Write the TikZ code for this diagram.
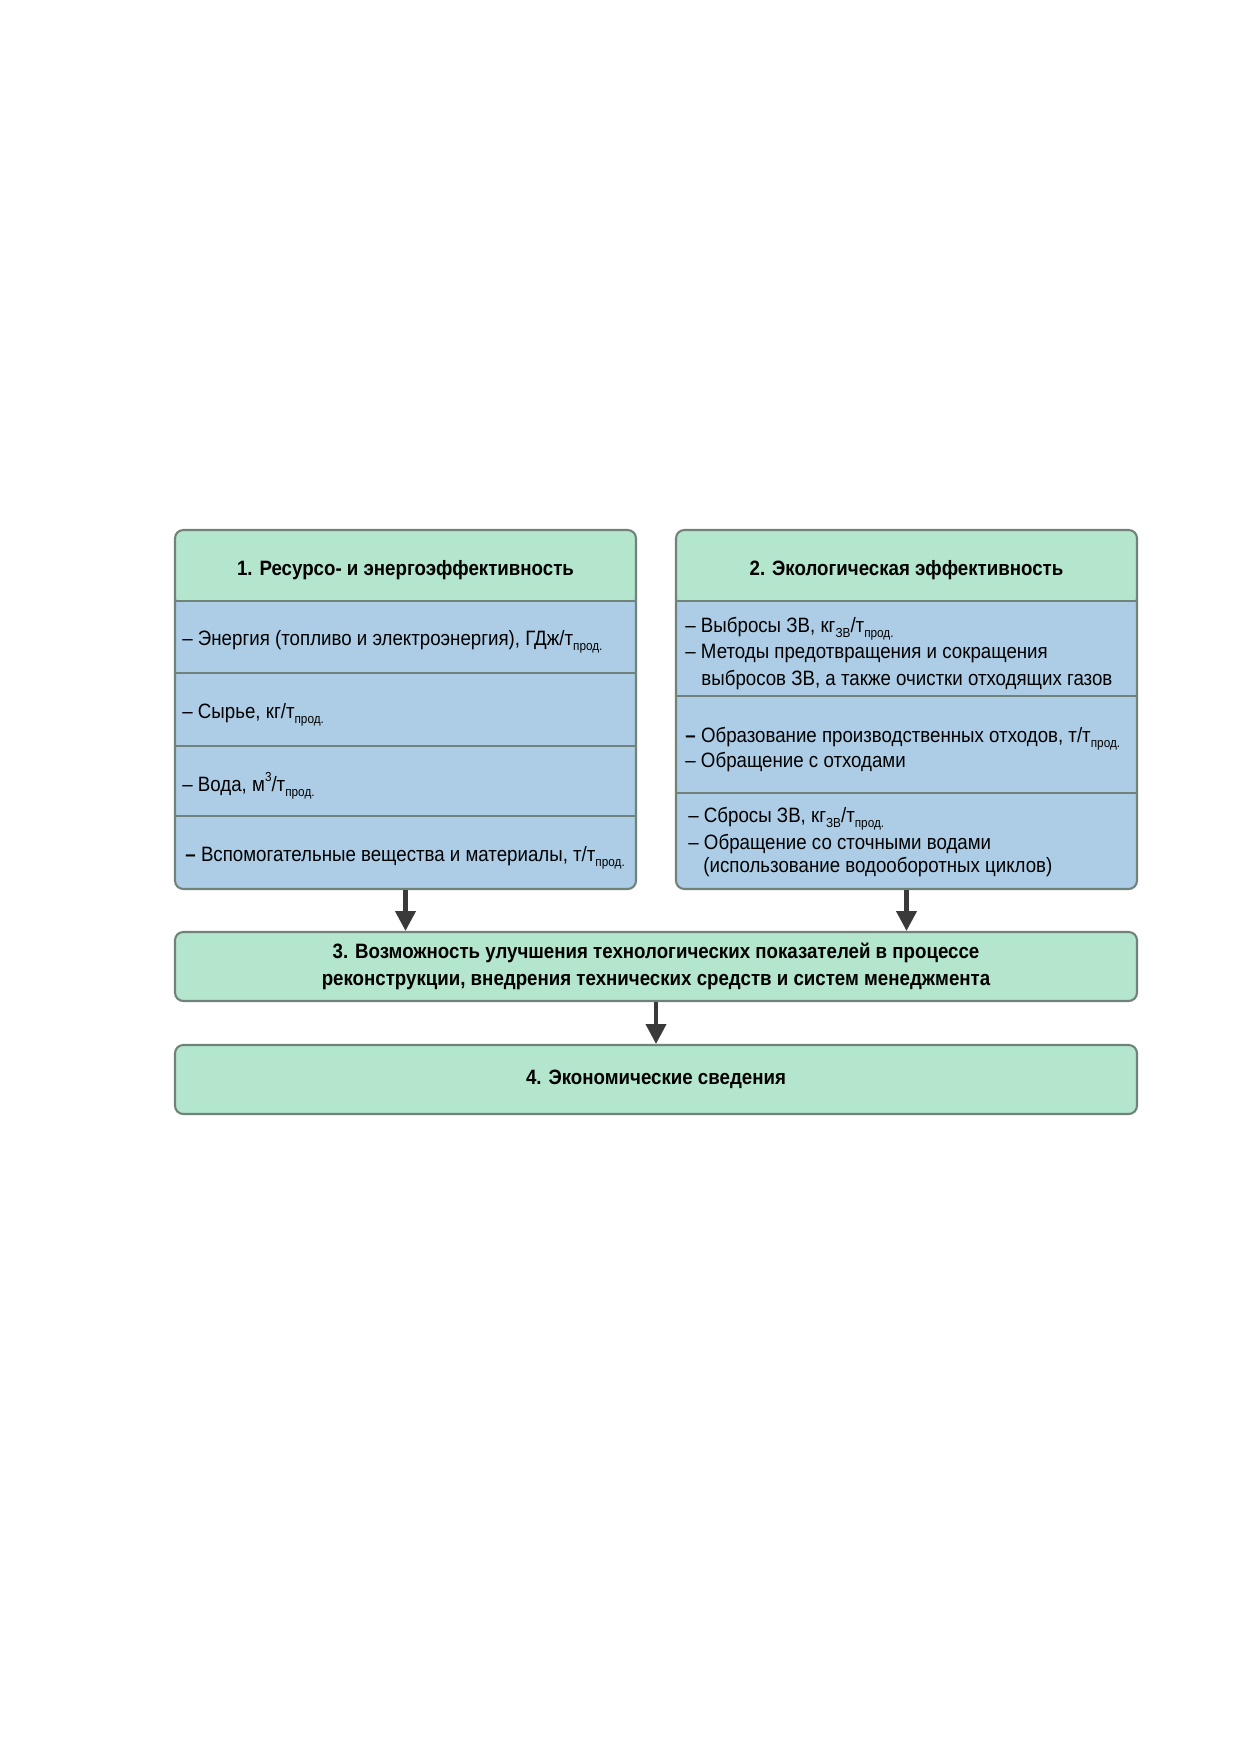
\documentclass[tikz,border=0pt]{standalone}
\usepackage{fontspec}
\setmainfont[FakeStretch=0.9]{Liberation Sans}
\usetikzlibrary{positioning,arrows.meta}

\definecolor{hdrgreen}{RGB}{180,229,205}
\definecolor{rowblue}{RGB}{172,205,229}
\definecolor{framegray}{RGB}{112,130,122}
\definecolor{arrowgray}{RGB}{58,58,58}

\newcommand{\pxl}{0.16922mm}
\newcommand{\lo}[1]{\raisebox{-0.5ex}{\fontsize{6.3}{7}\selectfont #1}}
\newcommand{\hi}[1]{\raisebox{0.9ex}{\fontsize{6.3}{7}\selectfont #1}}

\tikzset{
  panel/.style={draw=framegray, line width=1pt, rounded corners=4pt,
    inner sep=0pt, fill=rowblue},
  hdrpanel/.style={panel, path picture={\fill[hdrgreen]
    (path picture bounding box.north west) rectangle
    ([yshift=-72*\pxl]path picture bounding box.north east);}},
  greenbox/.style={panel, fill=hdrgreen, align=center,
    font=\fontsize{10}{13}\selectfont\bfseries},
  divider/.style={draw=framegray, line width=1pt},
  item/.style={anchor=base west, inner sep=0pt, font=\fontsize{10}{12}\selectfont},
  hdr/.style={anchor=base, inner sep=0pt, font=\fontsize{10}{12}\selectfont\bfseries},
  flow/.style={draw=arrowgray, line width=2pt,
    -{Triangle[width=9.6pt,length=9.6pt]}},
}

\begin{document}
\begin{tikzpicture}[x=0.16922mm, y=-0.16922mm]
\useasboundingbox (0,0) rectangle (1241,1754);

% the two upper panels
\node[hdrpanel, minimum width=461*\pxl, minimum height=359*\pxl] (respanel) at (405.5,709.5) {};
\node[hdrpanel, minimum width=461*\pxl, minimum height=359*\pxl] (ecopanel) at (906.5,709.5) {};
\foreach \d in {72,144,217,287}
  \draw[divider] ([yshift=-\d*\pxl]respanel.north west) -- ([yshift=-\d*\pxl]respanel.north east);
\foreach \d in {72,167,264}
  \draw[divider] ([yshift=-\d*\pxl]ecopanel.north west) -- ([yshift=-\d*\pxl]ecopanel.north east);

% lower boxes
\node[greenbox, minimum width=962*\pxl, minimum height=69*\pxl] (improve) at (656,966.5)
  {3. Возможность улучшения технологических показателей в процессе\\
   реконструкции, внедрения технических средств и систем менеджмента};
\node[greenbox, minimum width=962*\pxl, minimum height=69*\pxl] (econ) at (656,1079.5)
  {4. Экономические сведения};

% panel 1
\node[hdr] (reshead) at (405.5,575) {1. Ресурсо- и энергоэффективность};
\node[item] (energy) at (182,645) {– Энергия (топливо и электроэнергия), ГДж/т\lo{прод.}};
\node[item] (raw) at (182,718) {– Сырье, кг/т\lo{прод.}};
\node[item] (water) at (182,791) {– Вода, м\hi{3}/т\lo{прод.}};
\node[item] (aux) at (185,861) {\textbf{–} Вспомогательные вещества и материалы, т/т\lo{прод.}};

% panel 2
\node[hdr] (ecohead) at (906.5,575) {2. Экологическая эффективность};
\node[item] (emis) at (685,632) {– Выбросы ЗВ, кг\lo{ЗВ}/т\lo{прод.}};
\node[item] (emis2) at (685,658) {– Методы предотвращения и сокращения};
\node[item] (emis3) at (701,685) {выбросов ЗВ, а также очистки отходящих газов};
\node[item] (waste) at (685,742) {\textbf{–} Образование производственных отходов, т/т\lo{прод.}};
\node[item] (waste2) at (685,767) {– Обращение с отходами};
\node[item] (disch) at (688,822) {– Сбросы ЗВ, кг\lo{ЗВ}/т\lo{прод.}};
\node[item] (disch2) at (688,849) {– Обращение со сточными водами};
\node[item] (disch3) at (703,872) {(использование водооборотных циклов)};

% arrows
\draw[flow] (respanel.south) -- (respanel.south |- improve.north);
\draw[flow] (ecopanel.south) -- (ecopanel.south |- improve.north);
\draw[flow] (improve.south) -- (econ.north);
\end{tikzpicture}
\end{document}
